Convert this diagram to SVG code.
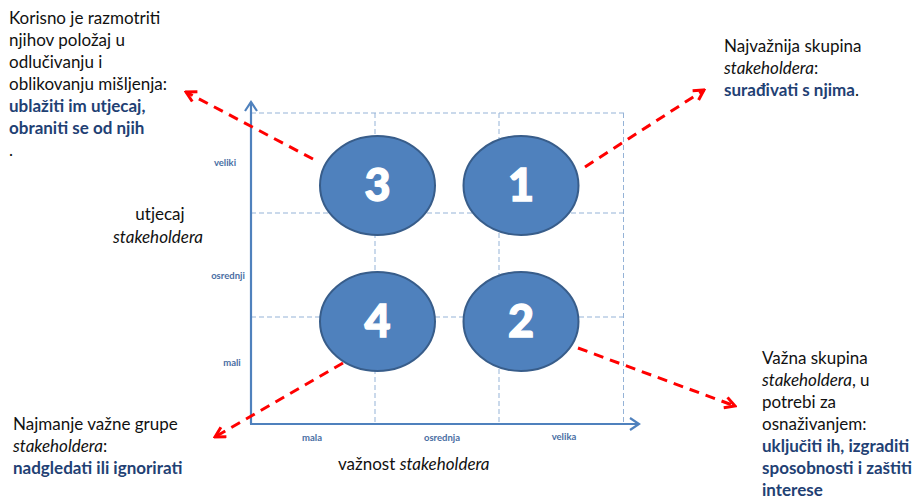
<svg xmlns="http://www.w3.org/2000/svg" width="915" height="499" viewBox="0 0 915 499">
  <defs>
    <style>
      .grid { stroke: #95B3D7; stroke-width: 1; stroke-dasharray: 5 3; fill: none; }
      .axis { stroke: #4F81BD; stroke-width: 2.2; fill: none; }
      .lead { stroke: #FF0000; stroke-width: 3; stroke-dasharray: 10 7; fill: none; }
      .bubble { fill: #4F81BD; stroke: #385D8A; stroke-width: 2; }
      .num { font-family: Lato, "Liberation Sans", sans-serif; font-weight: 900; font-size: 45px; fill: #FFFFFF; stroke: #FFFFFF; stroke-width: 1.3; text-anchor: middle; }
      .tick { font-family: Lato, "Liberation Sans", sans-serif; font-weight: bold; font-size: 9.5px; fill: #4A6EA3; text-anchor: middle; }
      .note { font-family: Lato, "Liberation Sans", sans-serif; font-size: 17px; fill: #111111; }
      .em { font-weight: bold; fill: #1F4174; }
      .it { font-style: italic; }
    </style>
    <marker id="redHead" markerUnits="userSpaceOnUse" viewBox="0 0 14 14" refX="12" refY="7" markerWidth="14" markerHeight="14" orient="auto">
      <path d="M2,1.5 L12,7 L2,12.5" stroke="#FF0000" stroke-width="3" fill="none" stroke-linejoin="miter"/>
    </marker>
    <marker id="blueHead" markerUnits="userSpaceOnUse" viewBox="0 0 14 14" refX="12" refY="7" markerWidth="14" markerHeight="14" orient="auto">
      <path d="M3,1 L12,7 L3,13" stroke="#4F81BD" stroke-width="2.2" fill="none"/>
    </marker>
  </defs>

  <!-- grid -->
  <g id="grid">
    <line class="grid" x1="251" y1="113" x2="624" y2="113"/>
    <line class="grid" x1="251" y1="213" x2="624" y2="213"/>
    <line class="grid" x1="251" y1="317" x2="624" y2="317"/>
    <line class="grid" x1="375" y1="113" x2="375" y2="424"/>
    <line class="grid" x1="499" y1="113" x2="499" y2="424"/>
    <line class="grid" x1="623.5" y1="113" x2="623.5" y2="424"/>
  </g>

  <!-- axes -->
  <g id="axes">
    <line class="axis" x1="251" y1="424" x2="251" y2="102" marker-end="url(#blueHead)"/>
    <line class="axis" x1="250" y1="424" x2="639" y2="424" marker-end="url(#blueHead)"/>
    <text class="tick" x="225" y="166">veliki</text>
    <text class="tick" x="228" y="279">osrednji</text>
    <text class="tick" x="232" y="366">mali</text>
    <text class="tick" x="312" y="441">mala</text>
    <text class="tick" x="442" y="441">osrednja</text>
    <text class="tick" x="564" y="440">velika</text>
  </g>

  <!-- connectors -->
  <g id="connectors">
    <line class="lead" x1="313" y1="159" x2="186" y2="92" marker-end="url(#redHead)"/>
    <line class="lead" x1="585" y1="167" x2="704" y2="90" marker-end="url(#redHead)"/>
    <line class="lead" x1="578" y1="348" x2="735" y2="406" marker-end="url(#redHead)"/>
    <line class="lead" x1="343" y1="363" x2="215" y2="437" marker-end="url(#redHead)"/>
  </g>

  <!-- quadrant nodes -->
  <g id="node-3">
    <ellipse class="bubble" cx="377.5" cy="185.5" rx="57.5" ry="49.5"/>
    <text class="num" x="377.5" y="201">3</text>
  </g>
  <g id="node-1">
    <ellipse class="bubble" cx="521" cy="185.5" rx="57.5" ry="49.5"/>
    <text class="num" x="521" y="201">1</text>
  </g>
  <g id="node-4">
    <ellipse class="bubble" cx="377.5" cy="321.5" rx="57.5" ry="49.5"/>
    <text class="num" x="377.5" y="337">4</text>
  </g>
  <g id="node-2">
    <ellipse class="bubble" cx="521" cy="321.5" rx="57.5" ry="49.5"/>
    <text class="num" x="521" y="337">2</text>
  </g>

  <!-- axis titles -->
  <g id="axis-titles">
    <text class="note" x="160" y="220" text-anchor="middle">utjecaj</text>
    <text class="note it" x="158" y="243" text-anchor="middle">stakeholdera</text>
    <text class="note" x="338" y="470">važnost <tspan class="it">stakeholdera</tspan></text>
  </g>

  <!-- notes -->
  <g id="note-3">
    <text class="note" x="9" y="24">Korisno je razmotriti</text>
    <text class="note" x="9" y="46">njihov položaj u</text>
    <text class="note" x="9" y="68">odlučivanju i</text>
    <text class="note" x="9" y="90">oblikovanju mišljenja:</text>
    <text class="note em" x="9" y="112">ublažiti im utjecaj,</text>
    <text class="note em" x="9" y="134">obraniti se od njih</text>
    <text class="note" x="9" y="156">.</text>
  </g>
  <g id="note-1">
    <text class="note" x="724" y="52">Najvažnija skupina</text>
    <text class="note" x="724" y="74"><tspan class="it">stakeholdera</tspan>:</text>
    <text class="note" x="724" y="96"><tspan class="em">surađivati s njima</tspan>.</text>
  </g>
  <g id="note-2">
    <text class="note" x="762" y="364">Važna skupina</text>
    <text class="note" x="762" y="386"><tspan class="it">stakeholdera</tspan>, u</text>
    <text class="note" x="762" y="408">potrebi za</text>
    <text class="note" x="762" y="430">osnaživanjem:</text>
    <text class="note em" x="762" y="452">uključiti ih, izgraditi</text>
    <text class="note em" x="762" y="474">sposobnosti i zaštiti</text>
    <text class="note em" x="762" y="496">interese</text>
  </g>
  <g id="note-4">
    <text class="note" x="13" y="430">Najmanje važne grupe</text>
    <text class="note" x="13" y="452"><tspan class="it">stakeholdera</tspan>:</text>
    <text class="note em" x="13" y="474">nadgledati ili ignorirati</text>
  </g>
</svg>
